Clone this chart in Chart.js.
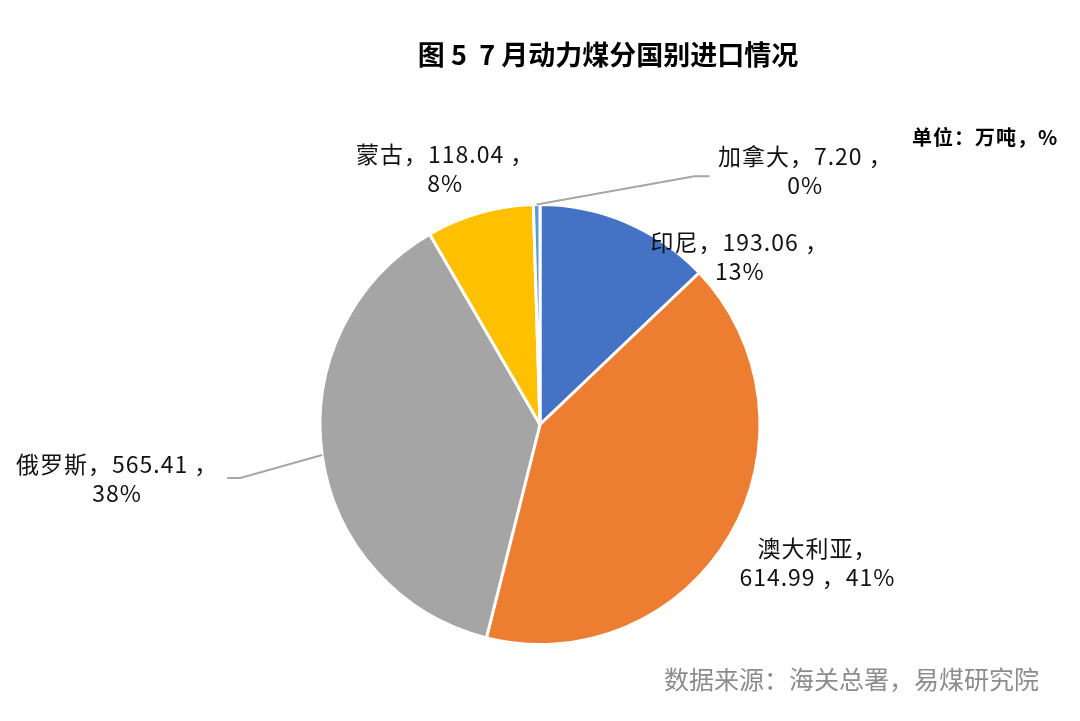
<!DOCTYPE html>
<html>
<head>
<meta charset="utf-8">
<script src="https://cdn.jsdelivr.net/npm/chart.js@4.4.1/dist/chart.umd.min.js"></script>
<style>
  body { margin: 0; background: #fff; }
  #box { width: 1080px; height: 721px; position: relative; }
</style>
</head>
<body>
<div id="box"><canvas id="grafica"></canvas></div>
<script>
// 国别 (从12点方向顺时针)
const paises = ["印尼", "澳大利亚", "俄罗斯", "蒙古", "加拿大"];
// 进口量，万吨
const volumen = [193.06, 614.99, 565.41, 118.04, 7.20];
// 占比
const porcentaje = ["13%", "41%", "38%", "8%", "0%"];

const colores = ["#4472C4", "#ED7D31", "#A5A5A5", "#FFC000", "#5B9BD5"];

// posicion de cada etiqueta, en radios desde el centro del pastel
const posEtiqueta = [
  [0.908, -0.766],
  [1.261, 0.628],
  [-1.922, 0.243],
  [-0.431, -1.165],
  [1.206, -1.156]
];
// lineas guia (codo y final), en radios
const guias = {
  2: [[-1.362, 0.243], [-1.422, 0.243]],
  4: [[0.702, -1.128], [0.771, -1.128]]
};

function lineasEtiqueta(i) {
  const nombre = paises[i], v = volumen[i].toFixed(2), p = porcentaje[i];
  if (i === 1) return [nombre + "，", v + " ，" + p];
  return [nombre + "，" + v + " ，", p];
}

const textos = {
  id: "textos",
  afterDatasetsDraw(chart) {
    const ctx = chart.ctx;
    const arcos = chart.getDatasetMeta(0).data;
    ctx.save();
    // lineas guia
    ctx.strokeStyle = "#A6A6A6";
    ctx.lineWidth = 2;
    Object.keys(guias).forEach(k => {
      const a = arcos[k];
      const { x, y, outerRadius, startAngle, endAngle } = a.getProps(["x", "y", "outerRadius", "startAngle", "endAngle"], true);
      const m = (startAngle + endAngle) / 2;
      ctx.beginPath();
      ctx.moveTo(x + Math.cos(m) * outerRadius, y + Math.sin(m) * outerRadius);
      guias[k].forEach(pt => ctx.lineTo(x + pt[0] * outerRadius, y + pt[1] * outerRadius));
      ctx.stroke();
    });
    // etiquetas de datos
    ctx.fillStyle = "#111";
    ctx.font = "23px 'Noto Sans CJK SC'";
    ctx.letterSpacing = "1px";
    ctx.textAlign = "center";
    ctx.textBaseline = "middle";
    arcos.forEach((a, i) => {
      const { x, y, outerRadius } = a.getProps(["x", "y", "outerRadius"], true);
      const cx = x + posEtiqueta[i][0] * outerRadius;
      const cy = y + posEtiqueta[i][1] * outerRadius;
      const ls = lineasEtiqueta(i);
      ctx.fillText(ls[0], cx, cy - 14);
      ctx.fillText(ls[1], cx, cy + 15);
    });
    // titulo, unidad, fuente
    ctx.letterSpacing = "0px";
    ctx.fillStyle = "#000";
    ctx.font = "bold 27px 'Noto Sans CJK SC'";
    ctx.fillText("图 5  7 月动力煤分国别进口情况", 608, 55);
    ctx.font = "bold 20px 'Noto Sans CJK SC'";
    ctx.textAlign = "left";
    ctx.letterSpacing = "1px";
    ctx.fillText("单位：万吨，%", 912, 137);
    ctx.letterSpacing = "0px";
    ctx.fillStyle = "#8C8C8C";
    ctx.font = "25px 'Noto Sans CJK SC'";
    ctx.fillText("数据来源：海关总署，易煤研究院", 664, 679);
    ctx.restore();
  }
};

new Chart(document.querySelector("#grafica"), {
  type: "pie",
  data: {
    labels: paises,
    datasets: [{
      data: volumen,
      backgroundColor: colores,
      borderColor: "#fff",
      borderWidth: 3
    }]
  },
  options: {
    responsive: true,
    maintainAspectRatio: false,
    animation: false,
    layout: { padding: { top: 203, bottom: 75, left: 0, right: 0 } },
    plugins: {
      legend: { display: false },
      tooltip: { enabled: false }
    }
  },
  plugins: [textos]
});
</script>
</body>
</html>
